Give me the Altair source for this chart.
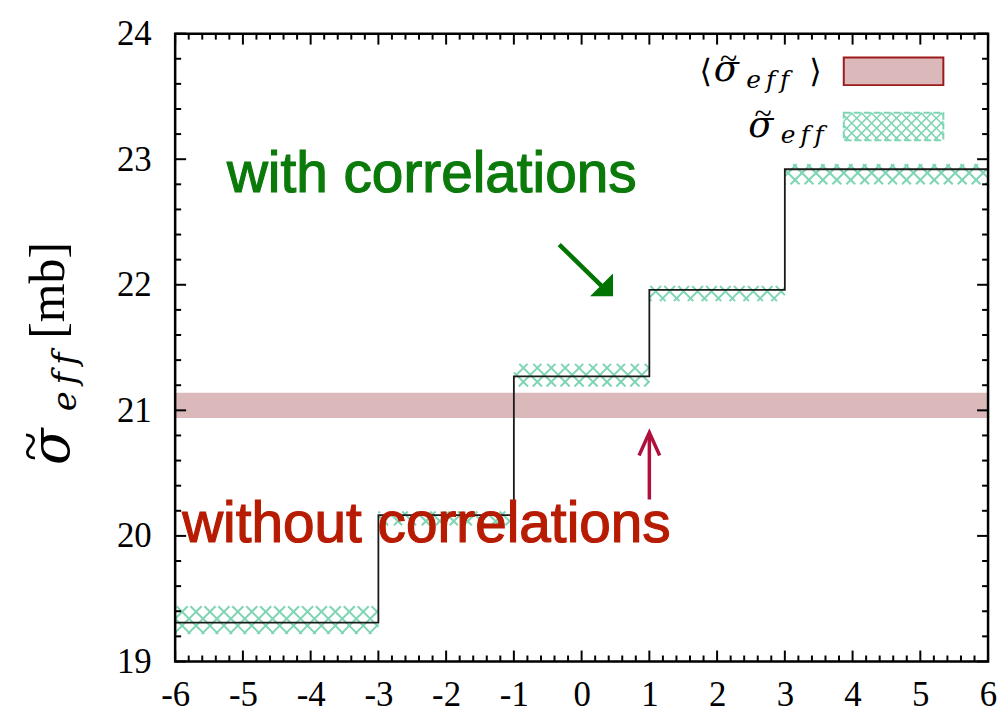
import altair as alt
import numpy as np
import pandas as pd

# ---------------- data ----------------
x_edges = [-6, -3, -1, 1, 3, 6]
step_y = [19.31, 20.165, 21.27, 21.96, 22.92]
band_lo = [19.22, 20.085, 21.19, 21.87, 22.80]
band_hi = [19.44, 20.195, 21.37, 21.99, 22.96]
avg_lo, avg_hi = 20.94, 21.14

x_major = [-6, -5, -4, -3, -2, -1, 0, 1, 2, 3, 4, 5, 6]
y_major = [19, 20, 21, 22, 23, 24]

# ---------------- layout ----------------
W, H = 817, 631
XMIN, XMAX, YMIN, YMAX = -6, 6, 19, 24
sx = W / (XMAX - XMIN)
sy = H / (YMAX - YMIN)

xs = alt.Scale(domain=[XMIN, XMAX], nice=False, zero=False)
ys = alt.Scale(domain=[YMIN, YMAX], nice=False, zero=False)

SERIF = "Liberation Serif"
MATH = "DejaVu Serif"
EFF = "e\u2009f\u2009f"
xaxis = alt.Axis(values=x_major, labelExpr="datum.value + ''", labelFont=SERIF,
                 labelFontSize=35, labelColor="black", ticks=False, domain=False,
                 grid=False, labelPadding=16, title=None, labelFlush=False,
                 labelOverlap=False)
yaxis = alt.Axis(values=y_major, labelExpr="datum.value + ''", labelFont=SERIF,
                 labelFontSize=35, labelColor="black", ticks=False, domain=False,
                 grid=False, labelPadding=24, title=None, labelOverlap=False)


def X(f):
    return alt.X(f, type="quantitative", scale=xs, axis=xaxis)


def Y(f):
    return alt.Y(f, type="quantitative", scale=ys, axis=yaxis)


def hatch(x0, x1, y0, y1, d):
    """cross-hatch segments (45 deg in pixel space) clipped to a box, data units"""
    X0, X1 = (x0 - XMIN) * sx, (x1 - XMIN) * sx
    Ya, Yb = (YMAX - y1) * sy, (YMAX - y0) * sy
    segs = []
    c = np.floor((Ya - X1) / d) * d
    while c <= Yb - X0 + d:
        lo, hi = max(X0, Ya - c), min(X1, Yb - c)
        if hi > lo:
            segs.append((lo, lo + c, hi, hi + c))
        c += d
    c = np.floor((Ya + X0) / d) * d
    while c <= Yb + X1 + d:
        lo, hi = max(X0, c - Yb), min(X1, c - Ya)
        if hi > lo:
            segs.append((lo, c - lo, hi, c - hi))
        c += d
    return [dict(x=a / sx + XMIN, y=YMAX - b / sy, x2=e / sx + XMIN, y2=YMAX - f / sy)
            for a, b, e, f in segs]


GREEN_H = "#7fd5b3"

# red average band
avg_df = pd.DataFrame({"x": [XMIN], "x2": [XMAX], "y": [avg_lo], "y2": [avg_hi]})
avg_layer = alt.Chart(avg_df).mark_rect(color="#dbb9ba").encode(
    x=X("x"), x2="x2", y=Y("y"), y2="y2")

# hatched bands
segs = []
for i in range(len(step_y)):
    segs += hatch(x_edges[i], x_edges[i + 1], band_lo[i], band_hi[i], 14)
hatch_layer = alt.Chart(pd.DataFrame(segs)).mark_rule(
    color=GREEN_H, strokeWidth=2).encode(x=X("x"), y=Y("y"), x2="x2", y2="y2")

# step line
step_df = pd.DataFrame({"x": x_edges, "y": step_y + [step_y[-1]]})
step_layer = alt.Chart(step_df).mark_line(
    interpolate="step-after", color="#1a1a1a", strokeWidth=1.8).encode(x=X("x"), y=Y("y"))

# legend
leg_x0, leg_x1 = 3.87, 5.34
leg_red = pd.DataFrame({"x": [leg_x0], "x2": [leg_x1], "y": [23.59], "y2": [23.81]})
leg_red_layer = alt.Chart(leg_red).mark_rect(
    fill="#dbb9ba", stroke="#9b1b1b", strokeWidth=2).encode(x=X("x"), x2="x2", y=Y("y"), y2="y2")
leg_h = hatch(leg_x0, leg_x1, 23.15, 23.37, 10)
leg_h_layer = alt.Chart(pd.DataFrame(leg_h)).mark_rule(
    color=GREEN_H, strokeWidth=1.5).encode(x=X("x"), y=Y("y"), x2="x2", y2="y2")
leg_g = pd.DataFrame({"x": [leg_x0], "x2": [leg_x1], "y": [23.15], "y2": [23.37]})
leg_g_layer = alt.Chart(leg_g).mark_rect(
    fill="white", fillOpacity=0, stroke=GREEN_H, strokeWidth=2, strokeDash=[7, 3]).encode(
    x=X("x"), x2="x2", y=Y("y"), y2="y2")

# legend label pieces: <  sigma  ~  eff  >
leg_brk = pd.DataFrame({"x": [1.74, 3.36], "y": [23.615, 23.615], "t": ["⟨", "⟩"]})
leg_brk_layer = alt.Chart(leg_brk).mark_text(
    font=MATH, fontSize=32, align="left", baseline="alphabetic",
    color="black").encode(x=X("x"), y=Y("y"), text="t")
leg_sig = pd.DataFrame({"x": [1.95, 2.46], "y": [23.62, 23.176], "t": ["σ", "σ"]})
leg_sig_layer = alt.Chart(leg_sig).mark_text(
    font=MATH, fontSize=37, fontStyle="italic", align="left", baseline="alphabetic",
    color="black").encode(x=X("x"), y=Y("y"), text="t")
leg_til = pd.DataFrame({"x": [2.17, 2.68], "y": [23.80, 23.356], "t": ["~", "~"]})
leg_til_layer = alt.Chart(leg_til).mark_text(
    font=SERIF, fontSize=32, align="center", baseline="middle",
    color="black").encode(x=X("x"), y=Y("y"), text="t")
leg_sub = pd.DataFrame({"x": [2.43, 2.94], "y": [23.57, 23.128], "t": [EFF, EFF]})
leg_sub_layer = alt.Chart(leg_sub).mark_text(
    font=MATH, fontSize=25, fontStyle="italic", align="left", baseline="alphabetic",
    color="black").encode(x=X("x"), y=Y("y"), text="t")

# annotations
ann_g = pd.DataFrame({"x": [-5.236], "y": [22.74], "t": ["with correlations"]})
ann_g_layer = alt.Chart(ann_g).mark_text(
    font="Liberation Sans", fontSize=57, align="left", baseline="alphabetic",
    color="#0b7a0b", stroke="#0b7a0b", strokeWidth=1.2).encode(x=X("x"), y=Y("y"), text="t")
ann_r = pd.DataFrame({"x": [-5.897], "y": [19.95], "t": ["without correlations"]})
ann_r_layer = alt.Chart(ann_r).mark_text(
    font="Liberation Sans", fontSize=57, align="left", baseline="alphabetic",
    color="#b71c03", stroke="#b71c03", strokeWidth=1.2).encode(x=X("x"), y=Y("y"), text="t")

# arrows
g_shaft = pd.DataFrame({"x": [-0.33], "y": [22.32], "x2": [0.294], "y2": [21.991]})
g_shaft_layer = alt.Chart(g_shaft).mark_rule(color="#007400", strokeWidth=4.5).encode(
    x=X("x"), y=Y("y"), x2="x2", y2="y2")
g_head = pd.DataFrame({"x": [0.463], "y": [21.908]})
g_head_layer = alt.Chart(g_head).mark_point(
    shape="M0,0 L-1,0 L0,-1 Z", size=2116, filled=True, fill="#007400", opacity=1,
    strokeWidth=0).encode(x=X("x"), y=Y("y"))
r_shaft = pd.DataFrame({"x": [1.0], "y": [20.29], "x2": [1.0], "y2": [20.81]})
r_shaft_layer = alt.Chart(r_shaft).mark_rule(color="#b0103c", strokeWidth=3.5).encode(
    x=X("x"), y=Y("y"), x2="x2", y2="y2")
r_head = pd.DataFrame({"x": [1.0], "y": [20.823]})
r_head_layer = alt.Chart(r_head).mark_point(
    shape="M-0.45,1 L0,0 L0.45,1", size=2116, filled=False, stroke="#b0103c",
    strokeWidth=3.5, opacity=1).encode(x=X("x"), y=Y("y"))

# y-axis title pieces (rotated)
one = pd.DataFrame({"a": [0]})
yt_sigma = alt.Chart(one).mark_text(
    text="σ", font=MATH, fontSize=54, fontStyle="italic", angle=270, align="center",
    baseline="alphabetic", color="black").encode(x=alt.value(-107), y=alt.value(415))
yt_tilde = alt.Chart(one).mark_text(
    text="~", font=SERIF, fontSize=54, angle=270, align="center",
    baseline="middle", color="black").encode(x=alt.value(-144), y=alt.value(415))
yt_eff = alt.Chart(one).mark_text(
    text=EFF, font=MATH, fontSize=34, fontStyle="italic", angle=270, align="center",
    baseline="alphabetic", color="black").encode(x=alt.value(-100), y=alt.value(350))
yt_mb = alt.Chart(one).mark_text(
    text="[mb]", font=SERIF, fontSize=50, angle=270, align="center",
    baseline="alphabetic", color="black").encode(x=alt.value(-112), y=alt.value(258))

# ticks (inward, mirrored)
x_minor = [v for v in np.round(np.arange(-6, 6.001, 0.2), 2) if abs(v - round(v)) > 1e-6]
y_minor = [v for v in np.round(np.arange(19, 24.001, 0.2), 2) if abs(v - round(v)) > 1e-6]


def xticks(vals, ln, top):
    y0, y1 = (0, ln) if top else (H, H - ln)
    return alt.Chart(pd.DataFrame({"v": vals})).mark_rule(color="black", strokeWidth=2).encode(
        x=X("v"), y=alt.value(y0), y2=alt.value(y1))


def yticks(vals, ln, right):
    x0, x1 = (W, W - ln) if right else (0, ln)
    return alt.Chart(pd.DataFrame({"v": vals})).mark_rule(color="black", strokeWidth=2).encode(
        y=Y("v"), x=alt.value(x0), x2=alt.value(x1))


tick_layers = [xticks(x_major, 11, False), xticks(x_major, 11, True),
               xticks(x_minor, 6, False), xticks(x_minor, 6, True),
               yticks(y_major, 11, False), yticks(y_major, 11, True),
               yticks(y_minor, 6, False), yticks(y_minor, 6, True)]

frame = alt.Chart(one).mark_rect(fill="white", fillOpacity=0, stroke="black",
                                 strokeWidth=2.5).encode(
    x=alt.value(0), x2=alt.value(W), y=alt.value(0), y2=alt.value(H))

chart = alt.layer(
    avg_layer, hatch_layer, step_layer,
    leg_red_layer, leg_h_layer, leg_g_layer,
    leg_brk_layer, leg_sig_layer, leg_til_layer, leg_sub_layer,
    ann_g_layer, ann_r_layer,
    g_shaft_layer, g_head_layer, r_shaft_layer, r_head_layer,
    yt_sigma, yt_tilde, yt_eff, yt_mb,
    *tick_layers, frame
).properties(
    width=W, height=H,
    padding={"left": 168, "top": 24, "right": 12, "bottom": 47},
    autosize=alt.AutoSizeParams(type="none"),
    background="white",
).configure_view(strokeWidth=0)

chart.save("out.html", embed_options={"renderer": "svg", "actions": False})
